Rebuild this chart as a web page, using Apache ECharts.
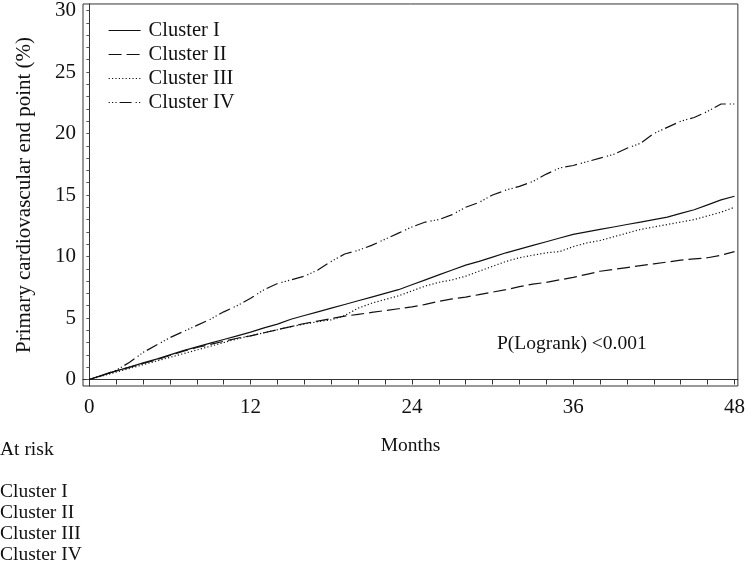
<!DOCTYPE html>
<html>
<head>
<meta charset="utf-8">
<script src="https://cdn.jsdelivr.net/npm/echarts@6/dist/echarts.min.js"></script>
<style>
html,body{margin:0;padding:0;background:#fff;}
#chart{width:748px;height:572px;}
</style>
</head>
<body>
<div id="chart"></div>
<script>
const months = [0,1,2,3,4,5,6,7,8,9,10,11,12,13,14,15,16,17,18,19,20,21,22,23,24,25,26,27,28,29,30,31,32,33,34,35,36,37,38,39,40,41,42,43,44,45,46,47,48];
const seriesNames = ['Cluster I','Cluster II','Cluster III','Cluster IV'];
const cluster1 = [0,0.35,0.7,1.0,1.35,1.65,2.0,2.35,2.65,2.95,3.25,3.55,3.85,4.2,4.5,4.9,5.2,5.5,5.8,6.1,6.4,6.7,7.0,7.3,7.7,8.1,8.5,8.9,9.3,9.6,9.95,10.3,10.6,10.9,11.2,11.5,11.8,12.0,12.2,12.4,12.6,12.8,13.0,13.2,13.5,13.8,14.2,14.6,14.9];
const cluster2 = [0,0.35,0.7,1.0,1.3,1.6,1.95,2.3,2.6,2.85,3.1,3.35,3.55,3.8,4.05,4.3,4.55,4.75,4.95,5.15,5.3,5.45,5.6,5.75,5.9,6.1,6.35,6.55,6.7,6.9,7.1,7.3,7.55,7.75,7.9,8.1,8.3,8.55,8.8,8.95,9.1,9.25,9.4,9.55,9.7,9.8,9.9,10.1,10.4];
const cluster3 = [0,0.3,0.6,0.9,1.2,1.5,1.8,2.1,2.4,2.7,3.0,3.3,3.55,3.8,4.05,4.3,4.5,4.7,4.85,5.2,5.8,6.2,6.5,6.8,7.2,7.6,7.9,8.1,8.4,8.8,9.2,9.6,9.9,10.1,10.3,10.4,10.8,11.1,11.3,11.6,11.9,12.2,12.4,12.6,12.8,13.0,13.3,13.6,14.0];
const cluster4 = [0,0.35,0.75,1.4,2.2,2.8,3.4,3.9,4.4,4.9,5.5,6.0,6.6,7.3,7.8,8.1,8.4,8.9,9.6,10.2,10.5,10.9,11.4,11.9,12.4,12.8,13.0,13.4,14.0,14.4,15.0,15.4,15.7,16.1,16.7,17.2,17.4,17.7,18.0,18.3,18.8,19.2,20.0,20.5,21.0,21.3,21.8,22.4,22.4];
const xTicks = [0,2,4,6,8,10,12,14,16,18,20,22,24,26,28,30,32,34,36,38,40,42,44,46,48];
const xLabels = [0,12,24,36,48];
const yTicks = [0,1,2,3,4,5,6,7,8,9,10,11,12,13,14,15,16,17,18,19,20,21,22,23,24,25,26,27,28,29,30];
const yLabels = [0,5,10,15,20,25,30];
const atRiskRows = ['Cluster I','Cluster II','Cluster III','Cluster IV'];

const FONT = '"Liberation Serif", "DejaVu Serif", serif';
const allValues = [cluster1, cluster2, cluster3, cluster4];
const dashTypes = ['solid', [13,5], [1.2,2.2], [1.2,2.2,1.2,2.2,1.2,3,12,4]];

const chart = echarts.init(document.getElementById('chart'));
const series = seriesNames.map((n, i) => ({
  name: n,
  type: 'line',
  symbol: 'none',
  showSymbol: false,
  animation: false,
  data: months.map((m, j) => [m, allValues[i][j]]),
  lineStyle: {color: '#111', width: 1.2, type: dashTypes[i]},
  itemStyle: {color: '#111'}
}));

const graphics = [
  {type:'text', left: 0, top: 440, style:{text:'At risk', font:'19.5px ' + FONT, fill:'#111'}}
];
atRiskRows.forEach((r, i) => {
  graphics.push({type:'text', left: 0, top: 482 + i*21, style:{text:r, font:'19.5px ' + FONT, fill:'#111'}});
});

chart.setOption({
  backgroundColor: '#fff',
  animation: false,
  grid: {left: 83, right: 6, top: 3, bottom: 186, show: true, borderColor: '#333', borderWidth: 1, backgroundColor: 'transparent'},
  title: {text: 'P(Logrank) <0.001', left: 497, top: 334, padding: 0,
    textStyle: {fontFamily: FONT, fontSize: 19.5, fontWeight: 'normal', color: '#111'}},
  legend: {
    orient: 'vertical', left: 103, top: 15, itemWidth: 32, itemHeight: 12, itemGap: 3,
    data: seriesNames.map((n, i) => ({name: n, lineStyle: {type: dashTypes[i], color: '#111', width: 1.2}, itemStyle: {opacity: 0}})),
    itemStyle: {opacity: 0, borderWidth: 0},
    textStyle: {fontFamily: FONT, fontSize: 20.5, color: '#111', padding: [0,0,0,3], lineHeight: 21}
  },
  xAxis: {
    type: 'value', min: -0.47, max: 48.25,
    name: 'Months', nameLocation: 'middle', nameGap: 50,
    nameTextStyle: {fontFamily: FONT, fontSize: 19.5, color: '#111'},
    axisLine: {show: true, lineStyle: {color: '#333', width: 1}},
    axisTick: {show: true, inside: false, length: 5, customValues: xTicks, lineStyle: {color: '#333'}},
    axisLabel: {customValues: xLabels, margin: 11, fontFamily: FONT, fontSize: 21, color: '#111'},
    splitLine: {show: false}
  },
  yAxis: {
    type: 'value', min: -0.53, max: 30.53,
    name: 'Primary cardiovascular end point (%)', nameLocation: 'middle', nameGap: 48, nameRotate: 90,
    nameTextStyle: {fontFamily: FONT, fontSize: 21, color: '#111'},
    axisLine: {show: true, lineStyle: {color: '#333', width: 1}},
    axisTick: {show: true, length: 3, customValues: yTicks, lineStyle: {color: '#555'}},
    axisLabel: {customValues: yLabels, margin: 7, fontFamily: FONT, fontSize: 21, color: '#111'},
    splitLine: {show: false}
  },
  graphic: graphics,
  series: series
});
</script>
</body>
</html>
